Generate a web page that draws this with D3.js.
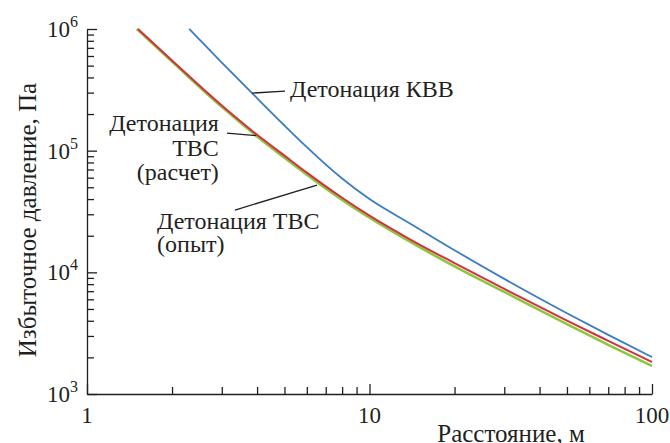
<!DOCTYPE html>
<html>
<head>
<meta charset="utf-8">
<script src="https://cdn.jsdelivr.net/npm/d3@7"></script>
<style>
  body { margin: 0; background: #fff; }
</style>
</head>
<body>
<div id="chart"></div>
<script>
// values: distance, m / overpressure, Pa
const kvvDist = [2.3, 3, 3.84, 5, 6, 8, 10, 14, 20, 30, 50, 70, 100];
const kvvPres = [1e6, 5.3e5, 2.97e5, 1.61e5, 1.07e5, 5.9e4, 4.0e4, 2.5e4, 1.52e4, 8830, 4610, 3060, 2010];

const calcDist = [1.515, 2, 3, 4, 5, 6, 8, 10, 14, 20, 30, 50, 70, 100];
const calcPres = [1e6, 5.5e5, 2.35e5, 1.35e5, 9.1e4, 6.6e4, 4.1e4, 2.92e4, 1.85e4, 1.19e4, 7300, 4010, 2735, 1830];

const expDist = [1.5, 2, 3, 4, 5, 6, 8, 10, 14, 20, 30, 50, 70, 100];
const expPres = [1e6, 5.4e5, 2.29e5, 1.31e5, 8.75e4, 6.35e4, 3.94e4, 2.81e4, 1.77e4, 1.12e4, 6900, 3750, 2535, 1700];

const xMajor = [1, 10, 100];
const yMajorExp = [3, 4, 5, 6];

const width = 670;
const height = 443;
const margin = { top: 29, right: 18, bottom: 49, left: 87 };
const innerW = width - margin.left - margin.right;
const innerH = height - margin.top - margin.bottom;
const ink = '#231f20';
const serif = "'Liberation Serif'";

const svg = d3.select('#chart')
  .append('svg')
  .attr('width', width)
  .attr('height', height);

const g = svg.append('g')
  .attr('transform', `translate(${margin.left}, ${margin.top})`);

const x = d3.scaleLog().domain([1, 100]).range([0, innerW]);
const y = d3.scaleLog().domain([1e3, 1e6]).range([innerH, 0]);

// 1..9 x each decade
const decadeTicks = (from, to) => {
  const out = [];
  for (let e = from; e < to; e++) {
    for (let k = 1; k <= 9; k++) out.push(k * Math.pow(10, e));
  }
  out.push(Math.pow(10, to));
  return out;
};
const isMajor = (v) => Math.abs(Math.log10(v) - Math.round(Math.log10(v))) < 1e-9;

// every text gets the font set on itself
const addText = (parent, size) => parent.append('text')
  .style('font-family', serif)
  .attr('font-size', size)
  .attr('fill', ink);

// curves
const line = d3.line()
  .x((d) => x(d[0]))
  .y((d) => y(d[1]))
  .curve(d3.curveMonotoneX);

const series = [
  { dist: expDist, pres: expPres, color: '#8cc63f', w: 2.6 },
  { dist: calcDist, pres: calcPres, color: '#d1323d', w: 2 },
  { dist: kvvDist, pres: kvvPres, color: '#3b7cc2', w: 1.8 }
];

g.append('g')
  .attr('class', 'lines')
  .selectAll('path')
  .data(series)
  .enter()
  .append('path')
  .attr('fill', 'none')
  .attr('stroke', (d) => d.color)
  .attr('stroke-width', (d) => d.w)
  .attr('d', (d) => line(d.dist.map((v, i) => [v, d.pres[i]])));

// axes, ticks point inward
const xAxis = g.append('g')
  .attr('class', 'axis')
  .attr('transform', `translate(0, ${innerH})`)
  .call(d3.axisBottom(x).tickValues(decadeTicks(0, 2)).tickSize(-7).tickSizeOuter(0).tickFormat(''));

const yAxis = g.append('g')
  .attr('class', 'axis')
  .call(d3.axisLeft(y).tickValues(decadeTicks(3, 6)).tickSize(-7).tickSizeOuter(0).tickFormat(''));

xAxis.selectAll('.tick line').filter(isMajor).attr('y2', -10);
yAxis.selectAll('.tick line').filter(isMajor).attr('x2', 10);

g.selectAll('.axis path, .axis line')
  .attr('stroke', ink)
  .attr('stroke-width', 1.3);

// tick labels
xMajor.forEach((d) => {
  addText(g, 23)
    .attr('x', x(d))
    .attr('y', innerH + 29)
    .attr('text-anchor', 'middle')
    .text(d);
});

yMajorExp.forEach((d) => {
  const t = addText(g, 23)
    .attr('x', -9)
    .attr('y', y(Math.pow(10, d)) + 8)
    .attr('text-anchor', 'end');
  t.append('tspan').text('10');
  t.append('tspan').attr('dy', -10).attr('font-size', 16).text(d);
});

// axis titles
addText(svg, 25)
  .attr('x', 511)
  .attr('y', 442)
  .attr('text-anchor', 'middle')
  .text('Расстояние, м');

addText(svg, 25)
  .attr('transform', 'translate(36, 220) rotate(-90)')
  .attr('text-anchor', 'middle')
  .text('Избыточное давление, Па');

// annotations (data coordinates)
const notes = g.append('g').attr('class', 'notes');

const pointer = (a, b) => notes.append('line')
  .attr('x1', x(a[0])).attr('y1', y(a[1]))
  .attr('x2', x(b[0])).attr('y2', y(b[1]))
  .attr('stroke', ink)
  .attr('stroke-width', 1.3);

const label = (pos, anchor, lines, step) => {
  lines.forEach((s, i) => {
    addText(notes, 24)
      .attr('x', x(pos[0]))
      .attr('y', y(pos[1]) + i * step)
      .attr('text-anchor', anchor)
      .text(s);
  });
};

pointer([3.84, 2.97e5], [5.02, 3.09e5]);
label([5.23, 2.75e5], 'start', ['Детонация КВВ'], 0);

pointer([3.13, 1.395e5], [3.97, 1.33e5]);
label([2.93, 1.45e5], 'end', ['Детонация', 'ТВС', '(расчет)'], 24.5);

pointer([3.34, 3.25e4], [6.52, 5.21e4]);
label([1.77, 2.27e4], 'start', ['Детонация ТВС', '(опыт)'], 23);
</script>
</body>
</html>
